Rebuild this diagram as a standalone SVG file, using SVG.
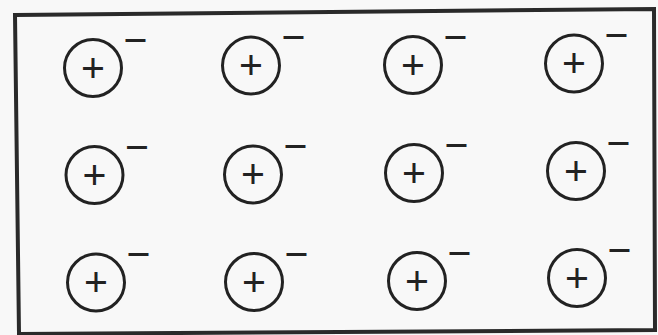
<svg xmlns="http://www.w3.org/2000/svg" width="658" height="335" viewBox="0 0 658 335">
<style>
.ring{fill:none;stroke:#222;stroke-width:3}
.p{font-family:"Liberation Sans",Arial,sans-serif;font-size:41px;fill:#222;text-anchor:middle}
.m{font-family:"Liberation Sans",Arial,sans-serif;font-size:41px;fill:#222;text-anchor:middle}
.box{fill:none;stroke:#2a2a2a;stroke-width:4;stroke-linejoin:miter}
</style>
<defs>
<g id="ion">
<circle class="ring" cx="0" cy="0" r="28.5"/>
<text class="p" x="0" y="13.5">+</text>
<text class="m" x="42.5" y="-14.5">−</text>
</g>
</defs>
<rect x="0" y="0" width="658" height="335" fill="#f8f8f8"/>
<polygon id="box" class="box" points="15,15 654,9 655,330 19,334"/>
<g id="ion-1-1" transform="translate(93,68)"><use href="#ion"/></g>
<g id="ion-1-2" transform="translate(251,65.5)"><use href="#ion"/></g>
<g id="ion-1-3" transform="translate(413,65)"><use href="#ion"/></g>
<g id="ion-1-4" transform="translate(574,63.5)"><use href="#ion"/></g>
<g id="ion-2-1" transform="translate(94.5,175)"><use href="#ion"/></g>
<g id="ion-2-2" transform="translate(253,174.5)"><use href="#ion"/></g>
<g id="ion-2-3" transform="translate(414,173)"><use href="#ion"/></g>
<g id="ion-2-4" transform="translate(576,171)"><use href="#ion"/></g>
<g id="ion-3-1" transform="translate(96,282.5)"><use href="#ion"/></g>
<g id="ion-3-2" transform="translate(254,282)"><use href="#ion"/></g>
<g id="ion-3-3" transform="translate(417,281)"><use href="#ion"/></g>
<g id="ion-3-4" transform="translate(577,278)"><use href="#ion"/></g>
<g id="connectors"/>
</svg>
